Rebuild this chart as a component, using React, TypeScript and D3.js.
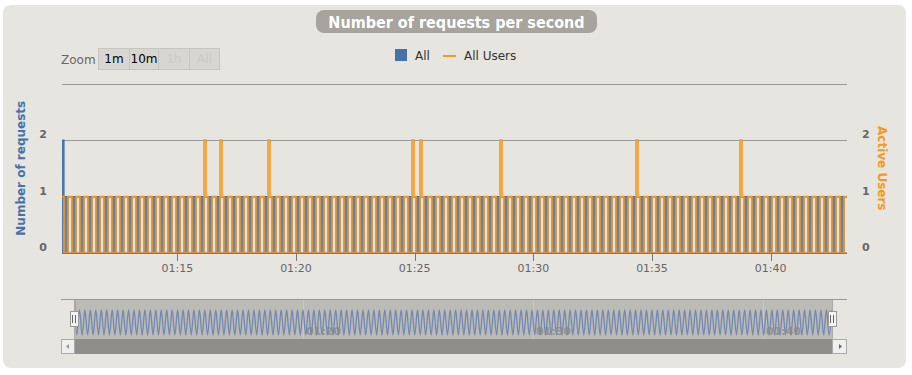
import React from "react";
import * as d3 from "d3";

// ---------- data ----------
const mainStartUtc = Date.UTC(2013, 0, 1, 1, 10, 3, 444);
const mainIntervalMs = 5056;

// "All" (Number of requests), one value per sample
const requestsAll = [
  0,2,1,1,0,0,1,1,0,0,1,1,0,0,1,1,0,0,1,1,
  0,0,1,1,0,0,1,1,0,0,1,1,0,0,1,1,0,0,1,1,
  0,0,1,1,0,0,1,1,0,0,1,1,0,0,1,1,0,0,1,1,
  0,0,1,1,0,0,1,1,0,0,1,1,0,0,1,1,0,0,1,1,
  0,0,1,1,0,0,1,1,0,0,1,1,0,0,1,1,0,0,1,1,
  0,0,1,1,0,0,1,1,0,0,1,1,0,0,1,1,0,0,1,1,
  0,0,1,1,0,0,1,1,0,0,1,1,0,0,1,1,0,0,1,1,
  0,0,1,1,0,0,1,1,0,0,1,1,0,0,1,1,0,0,1,1,
  0,0,1,1,0,0,1,1,0,0,1,1,0,0,1,1,0,0,1,1,
  0,0,1,1,0,0,1,1,0,0,1,1,0,0,1,1,0,0,1,1,
  0,0,1,1,0,0,1,1,0,0,1,1,0,0,1,1,0,0,1,1,
  0,0,1,1,0,0,1,1,0,0,1,1,0,0,1,1,0,0,1,1,
  0,0,1,1,0,0,1,1,0,0,1,1,0,0,1,1,0,0,1,1,
  0,0,1,1,0,0,1,1,0,0,1,1,0,0,1,1,0,0,1,1,
  0,0,1,1,0,0,1,1,0,0,1,1,0,0,1,1,0,0,1,1,
  0,0,1,1,0,0,1,1,0,0,1,1,0,0,1,1,0,0,1,1,
  0,0,1,1,0,0,1,1,0,0,1,1,0,0,1,1,0,0,1,1,
  0,0,1,1,0,0,1,1,0,0,1,1,0,0,1,1,0,0,1,1,
  0,0,1,1,0,0,1,1,0,0,1,1,0,0,1,1,0,0,1,1,
  0,0,1,1,0,0,1,1,0,0,1,1,0,0
];

// "All Users" (Active Users), one value per sample
const activeUsers = [
  1,1,0,0,1,1,0,0,1,1,0,0,1,1,0,0,1,1,0,0,
  1,1,0,0,1,1,0,0,1,1,0,0,1,1,0,0,1,1,0,0,
  1,1,0,0,1,1,0,0,1,1,0,0,1,1,0,0,1,1,0,0,
  1,1,0,0,1,1,0,0,1,1,0,0,2,1,0,0,1,1,0,0,
  2,1,0,0,1,1,0,0,1,1,0,0,1,1,0,0,1,1,0,0,
  1,1,0,0,2,1,0,0,1,1,0,0,1,1,0,0,1,1,0,0,
  1,1,0,0,1,1,0,0,1,1,0,0,1,1,0,0,1,1,0,0,
  1,1,0,0,1,1,0,0,1,1,0,0,1,1,0,0,1,1,0,0,
  1,1,0,0,1,1,0,0,1,1,0,0,1,1,0,0,2,1,0,0,
  2,1,0,0,1,1,0,0,1,1,0,0,1,1,0,0,1,1,0,0,
  1,1,0,0,1,1,0,0,1,1,0,0,1,1,0,0,1,1,0,0,
  2,1,0,0,1,1,0,0,1,1,0,0,1,1,0,0,1,1,0,0,
  1,1,0,0,1,1,0,0,1,1,0,0,1,1,0,0,1,1,0,0,
  1,1,0,0,1,1,0,0,1,1,0,0,1,1,0,0,1,1,0,0,
  1,1,0,0,1,1,0,0,2,1,0,0,1,1,0,0,1,1,0,0,
  1,1,0,0,1,1,0,0,1,1,0,0,1,1,0,0,1,1,0,0,
  1,1,0,0,1,1,0,0,1,1,0,0,1,1,0,0,1,1,0,0,
  2,1,0,0,1,1,0,0,1,1,0,0,1,1,0,0,1,1,0,0,
  1,1,0,0,1,1,0,0,1,1,0,0,1,1,0,0,1,1,0,0,
  1,1,0,0,1,1,0,0,1,1,0,0,1,1
];

const navStartUtc = Date.UTC(2013, 0, 1, 1, 10, 3, 0);
const navIntervalMs = 7110;
const navigatorAll = [
  2,0,1,0,1,0,1,0,1,0,1,0,1,0,1,0,1,0,1,0,1,0,1,0,1,0,1,0,1,0,
  1,0,1,0,1,0,1,0,1,0,1,0,1,0,1,0,1,0,1,0,1,0,1,0,1,0,1,0,1,0,
  1,0,1,0,1,0,1,0,1,0,1,0,1,0,1,0,1,0,1,0,1,0,1,0,1,0,1,0,1,0,
  1,0,1,0,1,0,1,0,1,0,1,0,1,0,1,0,1,0,1,0,1,0,1,0,1,0,1,0,1,0,
  1,0,1,0,1,0,1,0,1,0,1,0,1,0,1,0,1,0,1,0,1,0,1,0,1,0,1,0,1,0,
  1,0,1,0,1,0,1,0,1,0,1,0,1,0,1,0,1,0,1,0,1,0,1,0,1,0,1,0,1,0,
  1,0,1,0,1,0,1,0,1,0,1,0,1,0,1,0,1,0,1,0,1,0,1,0,1,0,1,0,1,0,
  1,0,1,0,1,0,1,0,1,0,1,0,1,0,1,0,1,0,1,0,1,0,1,0,1,0,1,0,1,0,
  1,0,1,0,1,0,1,0,1,0,1,0,1,0,1,0,1,0,1,0,1,0,1,0,1,0,1,0,1,0,
  1,0,1,0,1,0,1,0,1
];

const mainDomain = [Date.UTC(2013, 0, 1, 1, 10, 8, 500), Date.UTC(2013, 0, 1, 1, 43, 13)];
const navDomain = [Date.UTC(2013, 0, 1, 1, 10, 3), Date.UTC(2013, 0, 1, 1, 43, 0)];
const yGridValues = [0, 1, 2, 3];
const yLabelValues = [0, 1, 2];
const zoomButtons = ["1m", "10m", "1h", "All"];
const zoomEnabled = [true, true, false, false];
const seriesNames = ["All", "All Users"];
const titleText = "Number of requests per second";
const leftAxisTitle = "Number of requests";
const rightAxisTitle = "Active Users";

// ---------- style ----------
const BLUE = "#4572A7";
const ORANGE = "#F7981D";
const FONT = "'DejaVu Sans', Verdana, sans-serif";

export default function App() {
  const W = 912, H = 375;
  const pL = 62, pR = 847, pT = 83.5, pB = 253;
  const nL = 74, nR = 832, nT = 299.5, nB = 339;

  const x = d3.scaleUtc().domain(mainDomain).range([pL, pR]);
  const y = d3.scaleLinear().domain([0, 3]).range([pB, pT]);
  const xn = d3.scaleUtc().domain(navDomain).range([nL, nR]);
  const yn = d3.scaleLinear().domain([0, 1]).range([335, 310]);

  const toPts = (vals: number[], start: number, step: number, extend: boolean) => {
    const pts = vals.map((v, i) => ({ t: start + i * step, v }));
    if (extend) pts.push({ t: start + vals.length * step, v: vals[vals.length - 1] });
    return pts;
  };
  const reqPts = toPts(requestsAll, mainStartUtc, mainIntervalMs, true);
  const usrPts = toPts(activeUsers, mainStartUtc, mainIntervalMs, true);
  const navPts = toPts(navigatorAll, navStartUtc, navIntervalMs, false);

  const reqArea = d3.area<any>().curve(d3.curveStepAfter)
    .x((d) => x(d.t)).y0(y(0)).y1((d) => y(d.v))(reqPts) || "";
  const reqLine = d3.line<any>().curve(d3.curveStepAfter)
    .x((d) => x(d.t)).y((d) => y(d.v))(reqPts) || "";
  const usrLine = d3.line<any>().curve(d3.curveStepAfter)
    .x((d) => x(d.t)).y((d) => y(d.v))(usrPts) || "";
  const navLine = d3.line<any>().curve(d3.curveMonotoneX)
    .x((d) => xn(d.t)).y((d) => yn(d.v))(navPts) || "";

  const xTicks = x.ticks(d3.utcMinute.every(5) as any);
  const navTicks = xn.ticks(d3.utcMinute.every(10) as any);
  const fmt = d3.utcFormat("%H:%M");
  const r = (v: number) => Math.round(v) + 0.5;

  const btnX = [98, 129, 158, 189, 219];

  return (
    <svg width={W} height={H} style={{ position: "absolute", left: 0, top: 0 }} fontFamily={FONT}>
      <defs>
        <clipPath id="plotClip"><rect x={pL} y={pT - 2} width={pR - pL} height={pB - pT + 3} /></clipPath>
        <clipPath id="navClip"><rect x={nL} y={nT} width={nR - nL} height={nB - nT} /></clipPath>
        <linearGradient id="blueFill" x1="0" y1="0" x2="0" y2="1">
          <stop offset="0" stopColor="#5872a0" stopOpacity={1} />
          <stop offset="1" stopColor="#6f87ad" stopOpacity={1} />
        </linearGradient>
      </defs>
      <rect x={0} y={0} width={W} height={H} fill="#ffffff" />
      <rect x={3} y={5} width={903} height={363} rx={8} fill="#e6e5e0" />

      {/* title */}
      <rect x={316} y={10} width={281} height={23} rx={8} fill="#a6a49c" />
      <text x={456.5} y={27.5} textAnchor="middle" fill="#ffffff" fontWeight="bold" fontSize={16}
        fontFamily="'DejaVu Sans Condensed', 'DejaVu Sans', sans-serif">{titleText}</text>

      {/* range selector */}
      <text x={61} y={64} fill="#666" fontSize={12}>Zoom</text>
      {zoomButtons.map((b, i) => (
        <g key={b}>
          <rect x={btnX[i] + 0.5} y={48.5} width={btnX[i + 1] - btnX[i]} height={21} fill="#d7d6d2" stroke="#c6c5c0" />
          <text x={(btnX[i] + btnX[i + 1]) / 2 + 0.5} y={63} textAnchor="middle" fontSize={12}
            fill={zoomEnabled[i] ? "#000" : "#cbcac5"}>{b}</text>
        </g>
      ))}

      {/* legend */}
      <rect x={395} y={49} width={12} height={12} fill={BLUE} />
      <text x={415} y={60} fontSize={12} fill="#333">{seriesNames[0]}</text>
      <line x1={443} x2={456} y1={56} y2={56} stroke={ORANGE} strokeWidth={2} />
      <text x={464} y={60} fontSize={12} fill="#333">{seriesNames[1]}</text>

      {/* grid */}
      {yGridValues.filter((v) => v > 0).map((v) => (
        <line key={v} x1={pL} x2={pR} y1={r(y(v))} y2={r(y(v))} stroke="#9a9a9a" strokeWidth={1} />
      ))}

      {/* series */}
      <g clipPath="url(#plotClip)">
        <path d={reqArea} fill="url(#blueFill)" />
        <path d={reqLine} fill="none" stroke={BLUE} strokeWidth={1.2} />
        <path d={usrLine} fill="none" stroke={ORANGE} strokeWidth={1.6} strokeLinejoin="miter" />
      </g>

      {/* x axis */}
      <line x1={pL} x2={pR} y1={r(pB)} y2={r(pB)} stroke="#777" />
      {xTicks.map((t) => (
        <g key={+t}>
          <line x1={r(x(t))} x2={r(x(t))} y1={pB} y2={pB + 8} stroke="#777" />
          <text x={x(t)} y={272} textAnchor="middle" fontSize={11} fill="#666">{fmt(t)}</text>
        </g>
      ))}

      {/* y axes */}
      {yLabelValues.map((v) => (
        <g key={v}>
          <text x={47} y={y(v) - 2} textAnchor="end" fontSize={11} fontWeight="bold" fill="#666">{v}</text>
          <text x={862} y={y(v) - 2} textAnchor="start" fontSize={11} fontWeight="bold" fill="#666">{v}</text>
        </g>
      ))}
      <text transform={`translate(25,${(pT + pB) / 2}) rotate(-90)`} textAnchor="middle" fontSize={12}
        fontWeight="bold" fill={BLUE}>{leftAxisTitle}</text>
      <text transform={`translate(878,${(pT + pB) / 2}) rotate(90)`} textAnchor="middle" fontSize={12}
        fontWeight="bold" fill={ORANGE}>{rightAxisTitle}</text>

      {/* navigator */}
      <rect x={nL} y={nT} width={nR - nL} height={nB - nT} fill="#bcbbb6" />
      {navTicks.map((t) => (
        <line key={+t} x1={r(xn(t))} x2={r(xn(t))} y1={nT} y2={nB} stroke="#c9c8c3" />
      ))}
      <g clipPath="url(#navClip)">
        <path d={navLine} fill="none" stroke="#7189b2" strokeWidth={1.3} />
      </g>
      {navTicks.map((t) => (
        <text key={+t} x={xn(t) + 3} y={335} fontSize={11} fontWeight="bold" fill="#8a8a86" opacity={0.8}>{fmt(t)}</text>
      ))}
      <line x1={61} x2={847} y1={nT} y2={nT} stroke="#999" />
      <line x1={r(nL)} x2={r(nL)} y1={nT} y2={nB} stroke="#aaa" />
      <line x1={r(nR)} x2={r(nR)} y1={nT} y2={nB} stroke="#aaa" />
      {[nL, nR].map((hx, i) => (
        <g key={i}>
          <rect x={Math.round(hx) - 4 + 0.5} y={311.5} width={8} height={15} fill="#f2f2f2" stroke="#999" />
          <line x1={Math.round(hx) - 1.5} x2={Math.round(hx) - 1.5} y1={315} y2={323} stroke="#666" />
          <line x1={Math.round(hx) + 1.5} x2={Math.round(hx) + 1.5} y1={315} y2={323} stroke="#666" />
        </g>
      ))}

      {/* scrollbar */}
      <rect x={61} y={339} width={786} height={15} fill="#8f8e8a" />
      <rect x={61.5} y={339.5} width={13} height={14} fill="#efefef" stroke="#aaa" />
      <rect x={832.5} y={339.5} width={14} height={14} fill="#efefef" stroke="#aaa" />
      <path d={`M${66},${346.5} l3,-2.5 v5 z`} fill="#999" />
      <path d={`M${842},${346.5} l-3,-2.5 v5 z`} fill="#666" />
    </svg>
  );
}
